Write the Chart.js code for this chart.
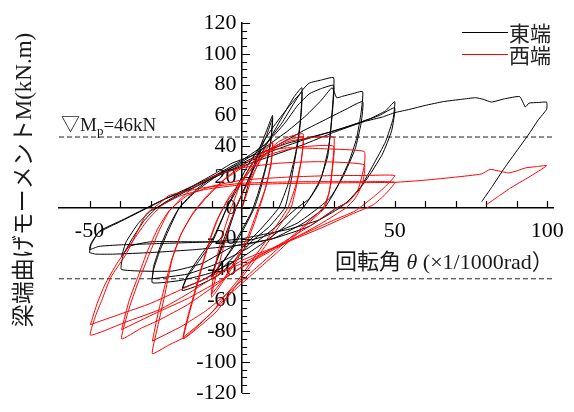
<!DOCTYPE html>
<html>
<head>
<meta charset="utf-8">
<script src="https://cdn.jsdelivr.net/npm/chart.js@4.4.0/dist/chart.umd.min.js"></script>
<style>
  html, body { margin: 0; padding: 0; background: #fff; }
</style>
</head>
<body>
<canvas id="chart" width="574" height="412"></canvas>
<script>
// 東端 (black) hysteresis loops, [theta, M]
const east10 = [
  [0,0],[2,15],[4,28],[6,40],[8,50],[10,60],
  [9.5,45],[8,28],[6,12],[4,0],[1,-12],[-3,-26],[-7,-37],[-10,-45],
  [-8,-33],[-5,-18],[-2,0],[2,18],[5,33],[8,47],[10,58],
  [9.3,42],[7.5,25],[5,8],[3,-3],[0,-14],[-4,-28],[-7,-37],[-10,-44]
];
const east20 = [
  [-10,-44],[-8,-32],[-5,-15],[-2,0],[2,18],[6,34],[10,48],[14,62],[17,72],[19.6,78],
  [19.4,62],[18.5,45],[17,28],[15.5,12],[14,0],[9,-12],[3,-22],[-2,-33],[-8,-44],[-14,-50],[-19.6,-53.6],
  [-18,-45],[-14,-34],[-9.6,-21.5],[-5,0],[-2,12.6],[2,28],[6,40],[10,52],[15,65],[18,72],[19.6,75],
  [19,55],[17.5,35],[15,15],[12,0],[6,-14],[0,-26],[-6,-38],[-13,-47],[-19.6,-52]
];
const east30 = [
  [-19.6,-52],[-18,-44],[-14,-32],[-9.6,-20],[-5,0],[-1,14],[3,28],[8,42],[13,55],[17,68],[20,77],[22,81],[26,83],[30,84.5],
  [29.7,68],[29,50],[28,33],[25,15],[20,0],[14,-12],[6,-24],[0,-32],[-10,-42],[-20,-47],[-29.4,-48.6],
  [-29,-40],[-27,-28],[-24,-14],[-20.6,0],[-15,12],[-8,22],[0,31],[8,42],[14,55],[18,66],[22,74],[26,77.5],[30,79.5],
  [29.5,60],[28.4,40],[26,20],[22,6],[18,0],[10,-14],[2,-26],[-8,-36],[-18,-43],[-29.4,-46]
];
const east40 = [
  [-29.4,-46],[-29,-38],[-27,-26],[-24,-12],[-20.6,0],[-15,11],[-8,21],[0,30],[8,40],[15,50],[21,60],[26,70],[29.5,78],[31,71.5],[33,72.5],[36,74],[39.5,75.5],
  [39,62],[37.5,45],[35,30],[31,13],[27,0],[20,-10],[10,-20],[-3,-25],[-13,-36],[-23,-41],[-39.5,-40],
  [-39,-31],[-36,-20],[-32,-8],[-28,0],[-20,10],[-10,20],[0,29],[10,39],[20,50],[28,58],[34,64],[39.5,69],
  [39,55],[37,38],[33,20],[29,7],[25,0],[18,-10],[8,-18],[0,-22],[-15,-22],[-30,-22],[-37,-25],[-39.5,-31.5]
];
const east50 = [
  [-39.5,-31.5],[-38,-22],[-34,-10],[-30,-2],[-28,0],[-20,9],[-10,19],[0,28],[10,37],[20,44],[28.4,49],[35,53],[42,58],[47,63],[50,69],
  [49.5,58],[47,43],[43,28],[39,14],[35,5],[32,0],[25,-8],[15,-14],[5,-18],[0,-20],[-10,-22],[-25,-23],[-40,-24],[-47,-25],[-50,-27],
  [-49.5,-23],[-46.7,-15],[-39,-7.6],[-32.7,-1.3],[-24,7],[-16,14.5],[-8.5,22.7],[-3.3,29],[5,35],[15,42],[28.4,49],[38,55],[45,60],[50,65],
  [49,50],[46,35],[42,22],[38,11],[34,3],[31,0],[22,-12],[10,-20],[0,-24],[-15,-27],[-30,-29],[-42,-30],[-48,-30],[-50,-29]
];
const eastMono = [
  [-50,-29],[-49.5,-24],[-47,-16],[-40,-9],[-33,-2],[-25,6],[-16,13],[-8,21],[0,27],[10,34],[20,41],[30,49],[40,56],[46,59],[50,61.8],
  [55,64],[60,66.5],[66,69],[72,70.5],[76.5,71.5],[79,70.5],[81.7,68.7],[86,70.8],[91,72.2],[92.8,65.5],[94,68],[97,68.4],[99.8,68.6],
  [99.8,64],[97,57],[94,48],[90,37],[86,26],[82,14],[78.5,4]
];

// 西端 (red) hysteresis loops
const west10 = [
  [0,0],[3,18],[6,32],[8,38],[10,43],
  [9.5,30],[8,15],[6,2],[4,-10],[1,-25],[-3,-38],[-7,-50],[-10,-58],
  [-9.5,-45],[-8,-30],[-6,-15],[-3,3],[0,18],[4,30],[7,37],[10,42],
  [9.5,28],[7.5,12],[5,-2],[2,-18],[-2,-33],[-6,-46],[-10,-56]
];
const west20 = [
  [-10,-56],[-8,-40],[-6,-25],[-4,-10],[-1,5],[3,20],[7,34],[12,43],[16,46.5],[20,48],
  [19.5,32],[18,16],[16,0],[10,-18],[5,-32],[0,-45],[-4,-56],[-8.5,-67.5],[-14,-77],[-19.3,-85],
  [-18,-72],[-15.5,-54],[-13,-36],[-10.5,-20],[-8.5,-9],[-5,4],[0,17],[5,30],[10,39],[15,44],[20,46],
  [19.3,30],[17.5,14],[15,0],[9,-18],[4,-32],[-1,-46],[-6,-58],[-10,-68],[-15,-77],[-19.3,-84]
];
const west30 = [
  [-19.3,-84],[-17.5,-70],[-15,-52],[-12.5,-34],[-10,-18],[-7.5,-5],[-4,8],[0,18],[5,30],[10,38],[15,43],[22,45.5],[30,46],
  [29.7,30],[29,15],[27,0],[20,-13],[12,-28],[4,-42],[-4,-56],[-10,-68],[-18,-83],[-24,-89],[-29.4,-94.6],
  [-28,-80],[-25.5,-58],[-23,-34],[-20,-17],[-16.3,-4.4],[-12,6],[-6,18],[0,26],[8,34],[15,38],[22,40],[30,40],
  [29.5,24],[28.5,10],[26.5,0],[20,-12],[12,-26],[4,-40],[-4,-54],[-12,-67],[-20,-77],[-29.4,-86.4]
];
const west40 = [
  [-29.4,-86.4],[-27.5,-68],[-25,-48],[-23,-33],[-20,-17],[-16,-3],[-11,9],[-5,20],[2,30],[8,37],[15,39],[25,38.5],[40,36.6],
  [40,27],[38,12],[35,4],[31,0],[22,-12],[12,-24],[0,-38],[-10,-52],[-18,-63],[-27,-72.6],[-33,-78],[-39.5,-85],
  [-37,-65],[-34,-48],[-30.4,-30],[-27,-14],[-24,-2.5],[-18,10],[-10,20],[0,26],[12,29],[25,30],[40,28],
  [39.5,16],[37,6],[34,0],[26,-10],[15,-22],[3,-35],[-8,-48],[-18,-59],[-28,-68],[-39.5,-79]
];
const west50 = [
  [-39.5,-79],[-37,-60],[-34,-44],[-31,-28],[-27.5,-13],[-24,-2],[-18,8],[-10,14],[0,18],[15,20],[30,21],[40,21],[50,21],
  [47,14],[43,7],[37,-2],[30,-8],[20,-17],[10,-26],[0,-34],[-10,-46],[-18,-56],[-27,-66],[-38,-74],[-49.7,-82.6],
  [-48,-70],[-46,-60],[-43,-45],[-38,-30],[-34.5,-16],[-31.4,-4],[-27,3],[-24,8],[-18,11],[-13,13],[0,16],[20,17],[40,17],[50,16.6],
  [47,9],[43,2],[36,-4],[26,-13],[15,-22],[4,-32],[0,-36],[-10,-44],[-20,-53],[-30,-62],[-40,-69],[-49.7,-75.7]
];
const westMono = [
  [-49.7,-75.7],[-47.5,-62],[-45,-50],[-41,-36],[-36,-22],[-31,-8],[-26,2],[-20,8],[-12,12],[0,15],[20,16],[40,16.4],[50,16.6],
  [60,18],[70,20],[78.4,22],[81.3,25],[84,24],[87.3,22.7],[90,24],[93,26],[96.5,26.8],[99.8,27.4],
  [94,20],[88,13],[84,7.5],[80,2]
];

const mpValue = 46;
const xRange = [-60, 102];
const yRange = [-120, 120];
const xTickLabels = [-50, 50, 100];
const xTickMarks = [-50, -40, -30, -20, -10, 10, 20, 30, 40, 50, 60, 70, 80, 90, 100];
const yTickLabels = [-120, -100, -80, -60, -40, -20, 0, 20, 40, 60, 80, 100, 120];

const SERIF = '"Liberation Serif", "Times New Roman", serif';
const MIXED = '"Liberation Serif", "Noto Sans CJK JP", serif';
const JP = '"Noto Sans CJK JP", sans-serif';

function pts(arr) {
    return arr.map(p => ({ x: p[0], y: p[1] }));
}

function loop(arr, color) {
    return { data: pts(arr), borderColor: color, borderWidth: 1, showLine: true, pointRadius: 0, tension: 0.15, fill: false };
}

const decor = {
    id: 'decor',
    beforeDatasetsDraw(chart) {   // tick marks on the centred axes
        const ctx = chart.ctx;
        const xs = chart.scales.x, ys = chart.scales.y;
        const x0 = xs.getPixelForValue(0), y0 = ys.getPixelForValue(0);
        ctx.save();
        ctx.strokeStyle = '#000';
        ctx.lineWidth = 1.2;
        ctx.beginPath();
        xTickMarks.forEach(v => {
            const px = Math.round(xs.getPixelForValue(v)) + 0.5;
            ctx.moveTo(px, y0);
            ctx.lineTo(px, y0 - 7);
        });
        for (let v = yRange[0]; v <= yRange[1]; v += 5) {
            const py = Math.round(ys.getPixelForValue(v)) + 0.5;
            ctx.moveTo(x0, py);
            ctx.lineTo(x0 + (v % 20 === 0 ? 8 : 5), py);
        }
        ctx.stroke();
        ctx.restore();
    },
    afterDraw(chart) {   // titles, legend, Mp label
        const ctx = chart.ctx;
        const ys = chart.scales.y;
        ctx.save();
        ctx.fillStyle = '#1a1a1a';

        // y title
        ctx.save();
        ctx.translate(25, 180);
        ctx.rotate(-Math.PI / 2);
        ctx.font = '23px ' + MIXED;
        ctx.textAlign = 'center';
        ctx.textBaseline = 'middle';
        ctx.fillText('梁端曲げモーメントM(kN.m)', 0, 0);
        ctx.restore();

        // x title
        ctx.textBaseline = 'middle';
        ctx.textAlign = 'left';
        let x = 335;
        const ty = 263;
        ctx.font = '22px ' + MIXED;
        ctx.fillText('回転角 ', x, ty);
        x += ctx.measureText('回転角 ').width;
        ctx.font = 'italic 22px ' + SERIF;
        ctx.fillText('θ', x, ty);
        x += ctx.measureText('θ').width;
        ctx.font = '22px ' + MIXED;
        ctx.fillText(' (×1/1000rad）', x, ty);

        // Mp label
        const my = ys.getPixelForValue(mpValue) - 6;
        ctx.textBaseline = 'alphabetic';
        x = 61;
        ctx.font = '19px ' + MIXED;
        ctx.fillText('▽M', x, my);
        x += ctx.measureText('▽M').width;
        ctx.font = '13px ' + SERIF;
        ctx.fillText('p', x, my + 4);
        x += ctx.measureText('p').width;
        ctx.font = '19px ' + SERIF;
        ctx.fillText('=46kN', x, my);

        // legend
        const legend = [['東端', '#000', 32], ['西端', '#ff0000', 54]];
        ctx.font = '21px ' + JP;
        ctx.textBaseline = 'middle';
        legend.forEach(([label, color, ly]) => {
            ctx.strokeStyle = color;
            ctx.lineWidth = 1;
            ctx.beginPath();
            ctx.moveTo(462, ly + 0.5);
            ctx.lineTo(508, ly + 0.5);
            ctx.stroke();
            ctx.fillStyle = '#222';
            ctx.fillText(label, 509, ly + 1);
        });
        ctx.restore();
    }
};

const dashStyle = { borderColor: '#222', borderWidth: 1, borderDash: [5, 3], showLine: true, pointRadius: 0, fill: false };

new Chart(document.getElementById('chart'), {
    type: 'scatter',
    data: {
        datasets: [
            loop(westMono, '#ff0000'), loop(west50, '#ff0000'), loop(west40, '#ff0000'),
            loop(west30, '#ff0000'), loop(west20, '#ff0000'), loop(west10, '#ff0000'),
            loop(eastMono, '#000'), loop(east50, '#000'), loop(east40, '#000'),
            loop(east30, '#000'), loop(east20, '#000'), loop(east10, '#000'),
            Object.assign({ data: [{ x: xRange[0], y: mpValue }, { x: xRange[1], y: mpValue }] }, dashStyle),
            Object.assign({ data: [{ x: xRange[0], y: -mpValue }, { x: xRange[1], y: -mpValue }] }, dashStyle)
        ]
    },
    options: {
        responsive: false,
        animation: false,
        layout: { padding: { left: 59, right: 19, top: 23, bottom: 8 } },
        plugins: { legend: { display: false }, tooltip: { enabled: false } },
        scales: {
            x: {
                type: 'linear', min: xRange[0], max: xRange[1], position: { y: 0 },
                afterBuildTicks: s => { s.ticks = xTickLabels.map(v => ({ value: v })); },
                ticks: { font: { family: SERIF, size: 22 }, color: '#000', padding: 10, autoSkip: false, maxRotation: 0, minRotation: 0 },
                grid: { display: false, drawTicks: false },
                border: { display: true, color: '#000', width: 1.5 }
            },
            y: {
                type: 'linear', min: yRange[0], max: yRange[1], position: { x: 0 },
                afterBuildTicks: s => { s.ticks = yTickLabels.map(v => ({ value: v })); },
                ticks: { font: { family: SERIF, size: 22 }, color: '#000', padding: 6, autoSkip: false,
                         callback: v => v + ' ' },
                grid: { display: false, drawTicks: false },
                border: { display: true, color: '#000', width: 1.5 }
            }
        }
    },
    plugins: [decor]
});
</script>
</body>
</html>
